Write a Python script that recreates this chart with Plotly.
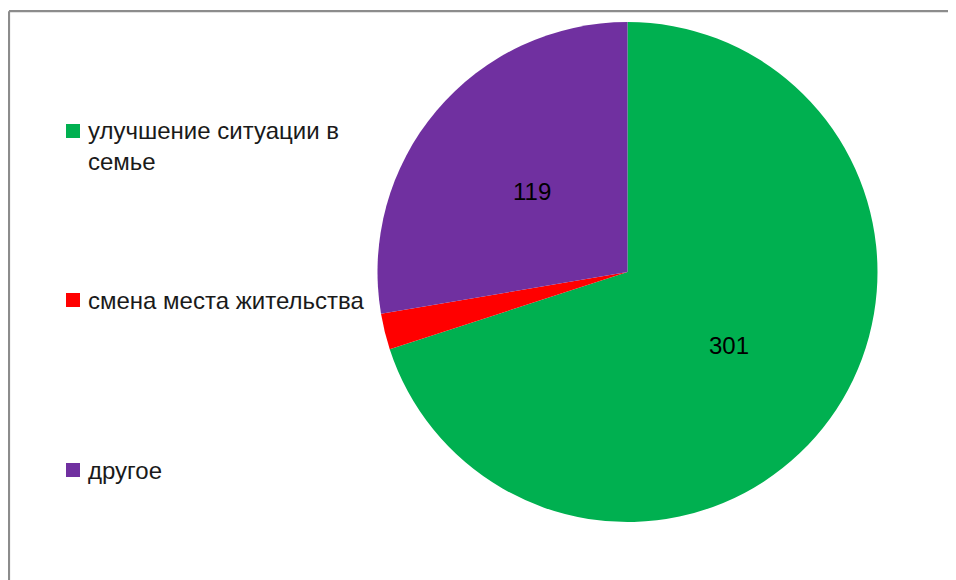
import math
import plotly.graph_objects as go

categories = ["улучшение ситуации в семье", "смена места жительства", "другое"]
legend_lines = [["улучшение ситуации в", "семье"], ["смена места жительства"], ["другое"]]
values = [301, 10, 119]
show_label = [True, False, True]
colors = ["#00B050", "#FF0000", "#7030A0"]

# page body has an 8px margin; figure is sized to fill the rest of the 956x580 window
OFF = 8
FW, FH = 956 - OFF, 580 - OFF
FONT = "Liberation Sans"


def px(x):
    return (x - OFF) / FW


def py(y):
    return 1 - (y - OFF) / FH


# pie geometry (window pixels)
PX0, PX1, PY0, PY1 = 377, 878, 22, 522
CX, CY = (PX0 + PX1) / 2, (PY0 + PY1) / 2
R = (PY1 - PY0) / 2

fig = go.Figure()
fig.add_trace(go.Pie(
    labels=categories,
    values=values,
    textinfo="none",
    marker=dict(colors=colors, line=dict(width=0)),
    sort=False,
    direction="clockwise",
    rotation=0,
    showlegend=False,
    hoverinfo="label+value",
    domain=dict(x=[px(PX0), px(PX1)], y=[py(PY1), py(PY0)]),
))

shapes = []
annotations = []
# frame (left and top edges)
shapes.append(dict(type="line", xref="paper", yref="paper", x0=px(9), x1=1.0, y0=py(11.2), y1=py(11.2),
                   line=dict(color="#8c8c8c", width=2.2)))
shapes.append(dict(type="line", xref="paper", yref="paper", x0=px(9), x1=px(9), y0=0, y1=py(11.2),
                   line=dict(color="#8c8c8c", width=2.2)))

# data labels at the middle angle of each slice, half radius
total = sum(values)
cum = 0
for v, show in zip(values, show_label):
    mid = (cum + v / 2) / total * 2 * math.pi
    cum += v
    if not show:
        continue
    lx = CX + 0.5 * R * math.sin(mid)
    ly = CY - 0.5 * R * math.cos(mid)
    annotations.append(dict(text=str(v), xref="paper", yref="paper", x=px(lx), y=py(ly),
                            xanchor="center", yanchor="middle", showarrow=False,
                            font=dict(family=FONT, size=24, color="#000000")))

legend_y = [131, 300, 470]
line_h = 31
for lines, col, yc in zip(legend_lines, colors, legend_y):
    shapes.append(dict(type="rect", xref="paper", yref="paper",
                       x0=px(66), x1=px(80), y0=py(yc + 7), y1=py(yc - 7),
                       fillcolor=col, line=dict(width=0)))
    for i, t in enumerate(lines):
        annotations.append(dict(text=t, xref="paper", yref="paper", x=px(86), y=py(yc + i * line_h),
                                xanchor="left", yanchor="middle", showarrow=False,
                                font=dict(family=FONT, size=24, color="#1a1a1a")))

fig.update_layout(
    width=FW, height=FH,
    margin=dict(l=0, r=0, t=0, b=0),
    paper_bgcolor="white",
    plot_bgcolor="white",
    shapes=shapes,
    annotations=annotations,
)

fig.write_html("out.html")
